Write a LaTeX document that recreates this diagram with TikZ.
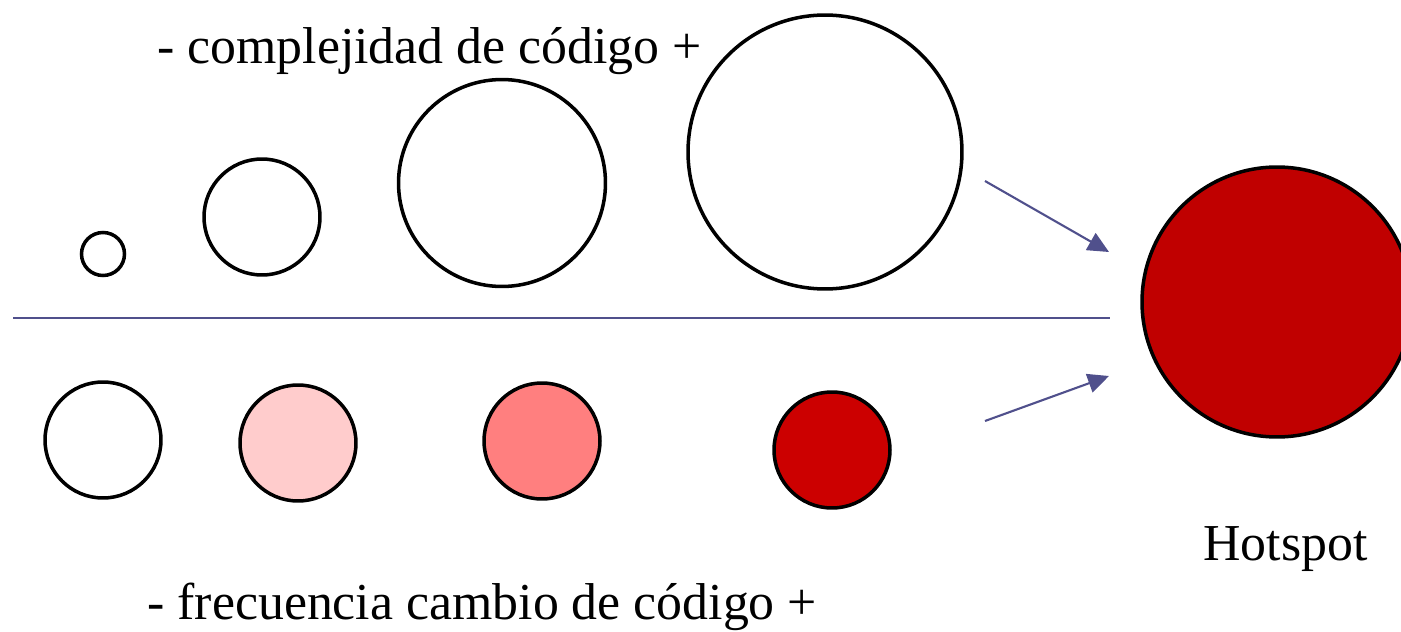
\documentclass[tikz,border=0pt]{standalone}
\usepackage{fontspec}
\setmainfont{Liberation Serif}
\usetikzlibrary{arrows.meta,positioning}
\definecolor{slateline}{HTML}{50508C}
\definecolor{pinkpale}{HTML}{FFCCCC}
\definecolor{pinkmid}{HTML}{FF7F7F}
\definecolor{reddeep}{HTML}{CC0000}
\definecolor{redhot}{HTML}{C00000}

\begin{document}
\begin{tikzpicture}[x=0.02cm,y=-0.02cm,
			ball/.style={circle,draw=black,line width=2pt,inner sep=0pt},
			lbl/.style={anchor=base west,inner sep=0pt,font=\fontsize{29.5}{35}\selectfont},
			arr/.style={-{Triangle[length=12pt,width=11pt]},line width=1.2pt,slateline}
			]
			\useasboundingbox (0,0) rectangle (1401,632);
			% complejidad (arriba)
			\node[ball,minimum size=0.86cm] (c1) at (103,254) {};
			\node[ball,minimum size=2.32cm] (c2) at (262,217) {};
			\node[ball,minimum size=4.14cm] (c3) at (502,183) {};
			\node[ball,minimum size=5.48cm] (c4) at (825,152) {};
			% frecuencia (abajo)
			\node[ball,minimum size=2.32cm] (f1) at (103,440) {};
			\node[ball,fill=pinkpale,minimum size=2.32cm] (f2) at (298,443) {};
			\node[ball,fill=pinkmid,minimum size=2.32cm] (f3) at (542,441) {};
			\node[ball,fill=reddeep,minimum size=2.32cm] (f4) at (832,450) {};
			% hotspot
			\node[ball,fill=redhot,minimum size=5.4cm] (hot) at (1277,302) {};
			\coordinate (sepL) at (13,318);
			\coordinate (sepR) at (1110,318);
			\draw[slateline,line width=1.2pt] (sepL) -- (sepR);
			\coordinate (a1s) at (985,181);
			\coordinate (a1e) at (1109,252);
			\coordinate (a2s) at (985,421);
			\coordinate (a2e) at (1109,376);
			\draw[arr] (a1s) -- (a1e);
			\draw[arr] (a2s) -- (a2e);
			\node[lbl] (tcomp) at (157,63) {- complejidad de código +};
			\node[lbl] (tfrec) at (147,619) {- frecuencia cambio de código +};
			\node[lbl] (thot) at (1203,560) {Hotspot};
		\end{tikzpicture}
\end{document}
